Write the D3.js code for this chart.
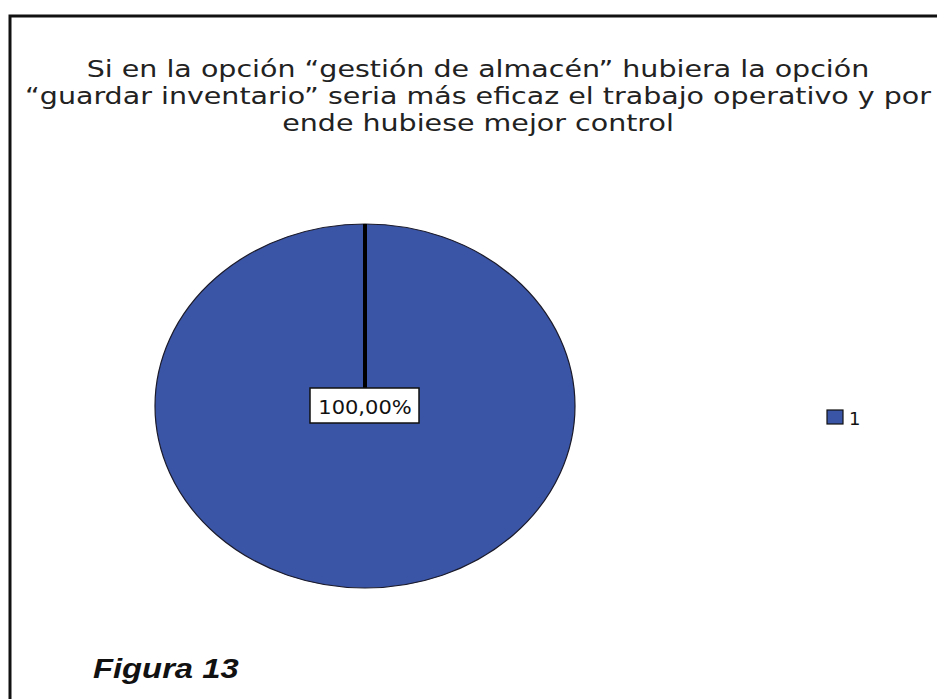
<!DOCTYPE html>
<html>
<head>
<meta charset="utf-8">
<script src="https://cdn.jsdelivr.net/npm/d3@7"></script>
<style>
  body { margin: 0; background: #fff; }
</style>
</head>
<body>
<div id="plot"></div>
<script>
// data
const categories = ["1"];
const values = [100];
const titleLines = [
  "Si en la opción “gestión de almacén” hubiera la opción",
  "“guardar inventario” seria más eficaz el trabajo operativo y por",
  "ende hubiese mejor control"
];
const caption = "Figura 13";

const width = 937, height = 699;
const svg = d3.select("#plot").append("svg")
  .attr("width", width)
  .attr("height", height);

// frame (only top and left edges show in the crop)
svg.append("path")
  .attr("d", `M10,${height} L10,16 L${width},16`)
  .attr("fill", "none")
  .attr("stroke", "#111")
  .attr("stroke-width", 3);

// title - the original font is wider than DejaVu, so stretch it a bit
svg.append("g")
  .attr("transform", "translate(478,0) scale(1.24,1)")
  .selectAll("text")
  .data(titleLines)
  .enter()
  .append("text")
  .attr("x", 0)
  .attr("y", (d, i) => 77 + i * 27)
  .attr("text-anchor", "middle")
  .attr("font-family", "DejaVu Sans, Verdana, sans-serif")
  .attr("font-size", 23)
  .attr("fill", "#222")
  .text(d => d);

// pie (drawn as an ellipse)
const cx = 365, cy = 406, rx = 210, ry = 182;
const color = d3.scaleOrdinal().domain(categories).range(["#3b55a6"]);
const pie = d3.pie().sort(null).value(d => d.value);
const arcs = pie(categories.map((c, i) => ({ cat: c, value: values[i] })));
const arc = d3.arc().innerRadius(0).outerRadius(rx);

const pieG = svg.append("g")
  .attr("transform", `translate(${cx},${cy}) scale(1,${ry / rx})`);

pieG.selectAll("path")
  .data(arcs)
  .enter()
  .append("path")
  .attr("d", arc)
  .attr("fill", d => color(d.data.cat))
  .attr("stroke", "#1a1a2a")
  .attr("stroke-width", 1.2)
  .attr("vector-effect", "non-scaling-stroke");

// slice boundary line (start angle)
pieG.selectAll("line.edge")
  .data(arcs)
  .enter()
  .append("line")
  .attr("class", "edge")
  .attr("x1", 0).attr("y1", 0)
  .attr("x2", d => rx * Math.sin(d.startAngle))
  .attr("y2", d => -rx * Math.cos(d.startAngle))
  .attr("stroke", "#000")
  .attr("stroke-width", 4)
  .attr("vector-effect", "non-scaling-stroke");

// label
const total = d3.sum(values);
const fmt = v => d3.format(".2f")(v).replace(".", ",") + "%";
const labG = svg.append("g").selectAll("g")
  .data(arcs)
  .enter()
  .append("g")
  .attr("transform", `translate(${cx},${cy})`);
labG.append("rect")
  .attr("x", -55).attr("y", -18)
  .attr("width", 109).attr("height", 35)
  .attr("fill", "#fff")
  .attr("stroke", "#111")
  .attr("stroke-width", 1.5);
labG.append("text")
  .attr("x", 0).attr("y", 8)
  .attr("text-anchor", "middle")
  .attr("transform", "scale(1.05,1)")
  .attr("font-family", "DejaVu Sans, Verdana, sans-serif")
  .attr("font-size", 20)
  .attr("fill", "#111")
  .text(d => fmt(d.data.value / total * 100));

// legend
const leg = svg.append("g").selectAll("g")
  .data(categories)
  .enter()
  .append("g")
  .attr("transform", (d, i) => `translate(827,${410 + i * 24})`);
leg.append("rect")
  .attr("width", 16).attr("height", 14)
  .attr("fill", d => color(d))
  .attr("stroke", "#111")
  .attr("stroke-width", 1.2);
leg.append("text")
  .attr("x", 22).attr("y", 15)
  .attr("font-family", "DejaVu Sans, Verdana, sans-serif")
  .attr("font-size", 18)
  .attr("fill", "#111")
  .text(d => d);

// caption
svg.append("text")
  .attr("transform", "translate(93,678) scale(1.17,1)")
  .attr("font-family", "Liberation Sans, Arial, sans-serif")
  .attr("font-size", 28)
  .attr("font-weight", "bold")
  .attr("font-style", "italic")
  .attr("fill", "#111")
  .text(caption);
</script>
</body>
</html>
